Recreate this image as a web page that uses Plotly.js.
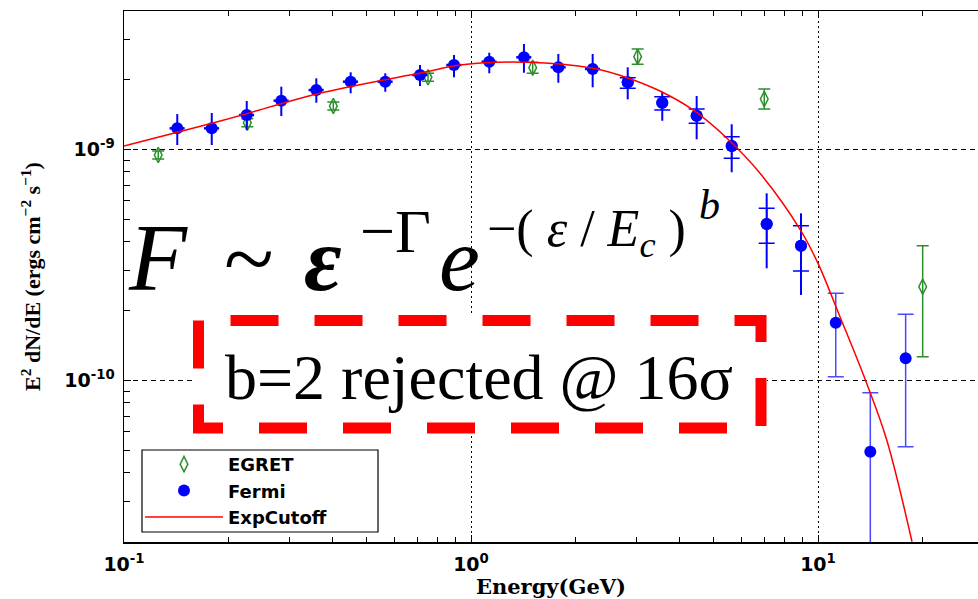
<!DOCTYPE html>
<html>
<head>
<meta charset="utf-8">
<script src="https://cdn.plot.ly/plotly-3.0.1.min.js"></script>
<style>html,body{margin:0;padding:0;background:#fff;}#chart{width:978px;height:599px;}</style>
</head>
<body>
<div id="chart"></div>
<script>
// ---- data (energies in GeV, E^2 dN/dE in ergs cm^-2 s^-1) ----
const fermiE  = [0.1424,0.1790,0.2258,0.2840,0.3583,0.4500,0.5662,0.7129,0.8933,1.129,1.421,1.785,2.242,2.829,3.558,4.470,5.640,7.114,8.933,11.25,14.15,17.89];
const fermiF  = [1.235e-9,1.235e-9,1.410e-9,1.627e-9,1.809e-9,1.966e-9,1.966e-9,2.101e-9,2.322e-9,2.399e-9,2.507e-9,2.269e-9,2.231e-9,1.954e-9,1.594e-9,1.401e-9,1.036e-9,0.476e-9,0.3834e-9,0.1779e-9,0.04916e-9,0.1248e-9];
const fermiHi = [1.424e-9,1.439e-9,1.622e-9,1.870e-9,2.033e-9,2.159e-9,2.138e-9,2.322e-9,2.566e-9,2.624e-9,2.862e-9,2.591e-9,2.591e-9,2.269e-9,1.779e-9,1.704e-9,1.286e-9,0.646e-9,0.5294e-9,0.2384e-9,0.0886e-9,0.1935e-9];
const fermiLo = [1.046e-9,1.046e-9,1.214e-9,1.396e-9,1.594e-9,1.751e-9,1.779e-9,1.883e-9,2.054e-9,2.138e-9,2.150e-9,1.946e-9,1.859e-9,1.649e-9,1.332e-9,1.107e-9,0.797e-9,0.306e-9,0.2346e-9,0.1039e-9,0.005e-9,0.0517e-9];
// inner (statistical) bounds for Fermi points 14..19
const fermiInnerHi = [2.046e-9,1.692e-9,1.498e-9,1.136e-9,0.5565e-9,0.4678e-9];
const fermiInnerLo = [1.840e-9,1.483e-9,1.298e-9,0.916e-9,0.3927e-9,0.2979e-9];

const egretE  = [0.1255,0.2267,0.4011,0.7517,1.506,3.022,7.000,20.03];
const egretF  = [0.9466e-9,1.306e-9,1.543e-9,2.054e-9,2.260e-9,2.522e-9,1.654e-9,0.2547e-9];
const egretHi = [0.985e-9,1.359e-9,1.605e-9,2.138e-9,2.385e-9,2.723e-9,1.827e-9,0.3834e-9];
const egretLo = [0.910e-9,1.255e-9,1.483e-9,1.974e-9,2.138e-9,2.338e-9,1.498e-9,0.1268e-9];

const cutE = [0.1,0.1942,0.3771,0.7322,0.9296,1.450,2.246,2.816,3.505,4.363,5.467,6.806,8.875,10,11.57,13.81,15.78,18.66];
const cutF = [1.036e-9,1.342e-9,1.769e-9,2.159e-9,2.322e-9,2.385e-9,2.246e-9,2.046e-9,1.791e-9,1.483e-9,1.118e-9,0.7888e-9,0.4514e-9,0.3216e-9,0.1889e-9,0.0973e-9,0.0553e-9,0.02005e-9];

const xTickVals = [0.1,1,10];
const xTickText = ['10<sup>-1</sup>','10<sup>0</sup>','10<sup>1</sup>'];
const xMinorVals = [0.2,0.3,0.4,0.5,0.6,0.7,0.8,0.9,2,3,4,5,6,7,8,9,20];
const yTickVals = [1e-10,1e-9];
const yTickText = ['10<sup>-10</sup>','10<sup>-9</sup>'];
const yMinorVals = [3e-11,4e-11,5e-11,6e-11,7e-11,8e-11,9e-11,2e-10,3e-10,4e-10,5e-10,6e-10,7e-10,8e-10,9e-10,2e-9,3e-9];

const seriesNames = ['EGRET','Fermi','ExpCutoff'];

// ---- helpers ----
const up = (v,hi) => hi.map((h,i)=>h-v[i]);
const dn = (v,lo) => lo.map((l,i)=>v[i]-l);
const sl = (a,s,e) => a.slice(s,e);

const BLUE = '#0000ff', GREEN = '#2a8f2a', RED = '#ff0000';

const traces = [];
// EGRET
traces.push({
  type:'scatter', mode:'markers', name:seriesNames[0], legendrank:1,
  x: egretE, y: egretF,
  marker:{symbol:'diamond-tall-open', size:11, color:GREEN, line:{width:1.5, color:GREEN}},
  error_y:{type:'data', symmetric:false, array:up(egretF,egretHi), arrayminus:dn(egretF,egretLo), color:GREEN, thickness:1.5, width:6}
});
// Fermi low energy (1..13) with x-bars
traces.push({
  type:'scatter', mode:'markers', name:seriesNames[1], legendgroup:'fermi', legendrank:2,
  x: sl(fermiE,0,13), y: sl(fermiF,0,13),
  marker:{symbol:'circle', size:12, color:BLUE},
  error_y:{type:'data', symmetric:false, array:up(sl(fermiF,0,13),sl(fermiHi,0,13)), arrayminus:dn(sl(fermiF,0,13),sl(fermiLo,0,13)), color:BLUE, thickness:2, width:0},
  error_x:{type:'percent', value:5, color:BLUE, thickness:2.5, width:0}
});
// Fermi 14..19 outer bars
traces.push({
  type:'scatter', mode:'markers', name:seriesNames[1], legendgroup:'fermi', showlegend:false,
  x: sl(fermiE,13,19), y: sl(fermiF,13,19),
  marker:{symbol:'circle', size:12, color:BLUE},
  error_y:{type:'data', symmetric:false, array:up(sl(fermiF,13,19),sl(fermiHi,13,19)), arrayminus:dn(sl(fermiF,13,19),sl(fermiLo,13,19)), color:BLUE, thickness:2, width:0}
});
// Fermi 14..19 inner bars with caps
traces.push({
  type:'scatter', mode:'markers', name:seriesNames[1], legendgroup:'fermi', showlegend:false, hoverinfo:'skip',
  x: sl(fermiE,13,19), y: sl(fermiF,13,19),
  marker:{symbol:'circle', size:12, color:BLUE},
  error_y:{type:'data', symmetric:false, array:up(sl(fermiF,13,19),fermiInnerHi), arrayminus:dn(sl(fermiF,13,19),fermiInnerLo), color:BLUE, thickness:1.5, width:8}
});
// Fermi high energy (20..22)
traces.push({
  type:'scatter', mode:'markers', name:seriesNames[1], legendgroup:'fermi', showlegend:false,
  x: sl(fermiE,19,22), y: sl(fermiF,19,22),
  marker:{symbol:'circle', size:12, color:BLUE},
  error_y:{type:'data', symmetric:false, array:up(sl(fermiF,19,22),sl(fermiHi,19,22)), arrayminus:dn(sl(fermiF,19,22),sl(fermiLo,19,22)), color:'#4a4aff', thickness:1.5, width:8}
});
// ExpCutoff
traces.push({
  type:'scatter', mode:'lines', name:seriesNames[2], legendrank:3,
  x: cutE, y: cutF, line:{color:RED, width:1.5, shape:'spline', smoothing:1}
});

// pixel -> paper helpers (plot area: x 124..978, y 11..542)
const ax = p => (p-124)/854;
const ay = p => (542-p)/531;

const serif = 'Liberation Serif, Times New Roman, serif';
const ann = (txt, px, py, size, xa) => ({
  xref:'paper', yref:'paper', x:ax(px), y:ay(py), text:txt, showarrow:false,
  xanchor:xa||'left', yanchor:'middle', font:{family:serif, size:size, color:'#000'}
});

const annotations = [
  ann('<i>F</i>', 126, 258, 95),
  ann('~', 222, 258, 92),
  ann('<b><i>ε</i></b>', 302, 259, 92),
  ann('−Γ', 358, 231, 62),
  ann('<i>e</i>', 437, 259, 92),
  ann('−( <i>ε</i> / <i>E</i><sub><i>c</i></sub> )', 485, 232, 52),
  ann('<i>b</i>', 697, 205, 42),
  ann('b=2 rejected @ 16σ', 479, 377, 64, 'center')
];

const shapes = [
  // legend frame
  {type:'rect', xref:'paper', yref:'paper', x0:ax(142), x1:ax(378), y0:ay(532), y1:ay(450), fillcolor:'#fff', line:{color:'#000', width:1.2}, layer:'above'},
  // white box behind the annotation
  {type:'rect', xref:'paper', yref:'paper', x0:ax(193), x1:ax(767), y0:ay(434), y1:ay(315), fillcolor:'#fff', line:{width:0}, layer:'above'},
  {type:'path', xref:'paper', yref:'paper', layer:'above',
   path:`M${ax(198.5)},${ay(320.5)} L${ax(198.5)},${ay(428)} L${ax(761)},${ay(428)} L${ax(761)},${ay(320.5)} Z`,
   line:{color:RED, width:11, dash:'48px,36px'}}
];

const tickFont = {family:'DejaVu Sans, sans-serif', size:19, color:'#000', weight:'bold'};

const layout = {
  width:978, height:599,
  margin:{l:124, r:0, t:11, b:57, pad:0},
  paper_bgcolor:'#fff', plot_bgcolor:'#fff',
  showlegend:true,
  legend:{x:ax(140), y:ay(446), xanchor:'left', yanchor:'top', bgcolor:'rgba(0,0,0,0)', borderwidth:0,
          font:{family:'DejaVu Sans, sans-serif', size:18, color:'#000', weight:'bold'}, itemwidth:78,
          traceorder:'normal', tracegroupgap:0},
  xaxis:{
    type:'log', range:[-1, 1.4611], autorange:false,
    showline:true, linecolor:'#000', linewidth:1.5, mirror:'ticks',
    ticks:'inside', ticklen:7, tickwidth:1, tickcolor:'#000',
    tickmode:'array', tickvals:xTickVals, ticktext:xTickText, tickfont:tickFont, ticklabelstandoff:5,
    showgrid:true, gridcolor:'#000', gridwidth:1, griddash:'2px,3px', zeroline:false,
    minor:{tickmode:'array', tickvals:xMinorVals, ticks:'inside', ticklen:5, tickwidth:1, tickcolor:'#000', showgrid:false},
    title:{text:'<b>Energy(GeV)</b>', font:{family:'DejaVu Serif, serif', size:21, color:'#000'}, standoff:4}
  },
  yaxis:{
    type:'log', range:[-10.6991, -8.4004], autorange:false,
    showline:true, linecolor:'#000', linewidth:1.5, mirror:false,
    ticks:'inside', ticklen:7, tickwidth:1, tickcolor:'#000',
    tickmode:'array', tickvals:yTickVals, ticktext:yTickText, tickfont:tickFont, ticklabelstandoff:4,
    showgrid:true, gridcolor:'#000', gridwidth:1, griddash:'5px,4px', zeroline:false,
    minor:{tickmode:'array', tickvals:yMinorVals, ticks:'inside', ticklen:6, tickwidth:1, tickcolor:'#000', showgrid:false},
    title:{text:'<b>E<sup>2</sup> dN/dE (ergs cm<sup>−2</sup> s<sup>−1</sup>)</b>', font:{family:'Liberation Serif, serif', size:22, color:'#000'}, standoff:17}
  },
  annotations:annotations,
  shapes:shapes
};

Plotly.newPlot('chart', traces, layout, {displayModeBar:false, staticPlot:true});
</script>
</body>
</html>
